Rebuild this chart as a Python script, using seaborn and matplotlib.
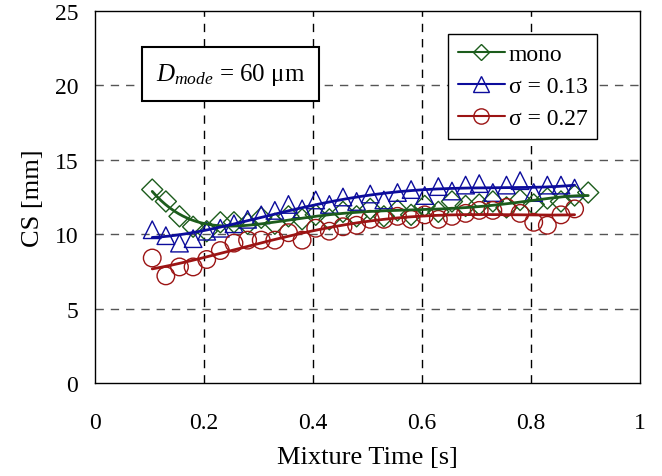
import numpy as np
import pandas as pd
import matplotlib
matplotlib.use("Agg")
import matplotlib.pyplot as plt
from matplotlib.lines import Line2D
import seaborn as sns

# data
x_mono = [0.105, 0.13, 0.155, 0.18, 0.205, 0.23, 0.255, 0.28, 0.305, 0.33, 0.355, 0.38,
          0.405, 0.43, 0.455, 0.48, 0.505, 0.53, 0.555, 0.58, 0.605, 0.63, 0.655, 0.68,
          0.705, 0.73, 0.755, 0.78, 0.805, 0.83, 0.855, 0.88, 0.905]
cs_mono = [13.0, 12.2, 11.2, 10.5, 10.2, 10.8, 10.8, 10.7, 11.1, 10.7, 11.2, 11.0,
           11.3, 11.0, 11.5, 11.2, 11.7, 11.2, 11.6, 11.3, 11.9, 11.5, 12.2, 11.9,
           12.0, 12.2, 11.8, 12.3, 12.0, 12.4, 12.2, 12.6, 12.8]

x_s13 = [0.105, 0.13, 0.155, 0.18, 0.205, 0.23, 0.255, 0.28, 0.305, 0.33, 0.355, 0.38,
         0.405, 0.43, 0.455, 0.48, 0.505, 0.53, 0.555, 0.58, 0.605, 0.63, 0.655, 0.68,
         0.705, 0.73, 0.755, 0.78, 0.805, 0.83, 0.855, 0.88]
cs_s13 = [10.3, 9.9, 9.4, 9.7, 10.2, 10.4, 10.7, 11.0, 11.3, 11.6, 12.0, 11.7,
          12.3, 12.0, 12.5, 12.2, 12.7, 12.3, 12.8, 13.0, 12.6, 13.2, 12.9, 13.3,
          13.4, 12.8, 13.3, 13.6, 12.8, 13.3, 13.3, 13.1]

x_s27 = [0.105, 0.13, 0.155, 0.18, 0.205, 0.23, 0.255, 0.28, 0.305, 0.33, 0.355, 0.38,
         0.405, 0.43, 0.455, 0.48, 0.505, 0.53, 0.555, 0.58, 0.605, 0.63, 0.655, 0.68,
         0.705, 0.73, 0.755, 0.78, 0.805, 0.83, 0.855, 0.88]
cs_s27 = [8.4, 7.2, 7.8, 7.8, 8.3, 8.9, 9.4, 9.6, 9.6, 9.6, 10.1, 9.6,
          10.4, 10.2, 10.5, 10.6, 11.0, 11.0, 11.2, 11.0, 11.3, 11.0, 11.2, 11.4,
          11.6, 11.6, 11.8, 11.4, 10.8, 10.6, 11.3, 11.7]

labels = ["mono", "σ = 0.13", "σ = 0.27"]
colors = ["#1c5c1c", "#0c0c9c", "#9c1414"]
markers = ["D", "^", "o"]

sns.set_theme(style="white")
plt.rcParams["font.family"] = ["Liberation Serif", "DejaVu Serif"]
plt.rcParams["text.color"] = "black"
plt.rcParams["axes.labelcolor"] = "black"
plt.rcParams["xtick.color"] = "black"
plt.rcParams["ytick.color"] = "black"
plt.rcParams["mathtext.fontset"] = "custom"
plt.rcParams["mathtext.it"] = "Liberation Serif:italic"
plt.rcParams["mathtext.rm"] = "Liberation Serif"

fig = plt.figure(figsize=(6.62, 4.77), dpi=100)
ax = fig.add_axes([95 / 662, 1 - 384 / 477, 545 / 662, 372 / 477])

series = [(x_mono, cs_mono), (x_s13, cs_s13), (x_s27, cs_s27)]
handles = []
for (xs, ys), lab, c, m in zip(series, labels, colors, markers):
    df = pd.DataFrame({"t": xs, "cs": ys})
    msize = 115 if m == "D" else 160
    sns.scatterplot(data=df, x="t", y="cs", marker=m, s=msize, facecolor="none",
                    edgecolor=c, linewidth=1.0, ax=ax, zorder=3)
    # trend line like the spreadsheet polynomial fit
    coef = np.polyfit(df["t"], df["cs"], 5 if m == "D" else 4)
    tt = np.linspace(min(xs), max(xs), 200)
    fit = pd.DataFrame({"t": tt, "cs": np.polyval(coef, tt)})
    sns.lineplot(data=fit, x="t", y="cs", color=c, linewidth=2.0, ax=ax, zorder=4)
    handles.append(Line2D([], [], color=c, lw=1.5, marker=m, markersize=11 if m != "D" else 8,
                          markerfacecolor="none", markeredgecolor=c, markeredgewidth=1.0))

ax.set_xlim(0, 1)
ax.set_ylim(0, 25)
ax.set_xticks([0, 0.2, 0.4, 0.6, 0.8, 1])
ax.set_xticklabels(["0", "0.2", "0.4", "0.6", "0.8", "1"])
ax.set_yticks([0, 5, 10, 15, 20, 25])
ax.tick_params(labelsize=17, length=0)
ax.tick_params(axis="x", pad=21)
ax.tick_params(axis="y", pad=12)
ax.set_xlabel("Mixture Time [s]", fontsize=19, labelpad=9)
ax.set_ylabel("CS [mm]", fontsize=19, labelpad=8)

for v in [0.2, 0.4, 0.6, 0.8]:
    ax.axvline(v, color="black", ls=(0, (6, 5)), lw=1.0, zorder=1)
for h in [5, 10, 15, 20]:
    ax.axhline(h, color="#555555", ls=(0, (6, 5)), lw=1.0, zorder=1)

for sp in ax.spines.values():
    sp.set_color("black")
    sp.set_linewidth(1.0)

leg = ax.legend(handles, labels, loc="upper right", bbox_to_anchor=(0.921, 0.938),
                fontsize=17, frameon=True, fancybox=False, edgecolor="black",
                framealpha=1, handlelength=2.0, handletextpad=0.15, borderpad=0.4,
                labelspacing=0.45, borderaxespad=0)
leg.get_frame().set_linewidth(1.0)

ax.text(0.248, 0.83, r"$D_{mode}$ = 60 μm", transform=ax.transAxes, fontsize=18,
        ha="center", va="center",
        bbox=dict(boxstyle="square,pad=0.55", fc="white", ec="black", lw=1.5), zorder=5)

fig.savefig("out.png", dpi=100)
